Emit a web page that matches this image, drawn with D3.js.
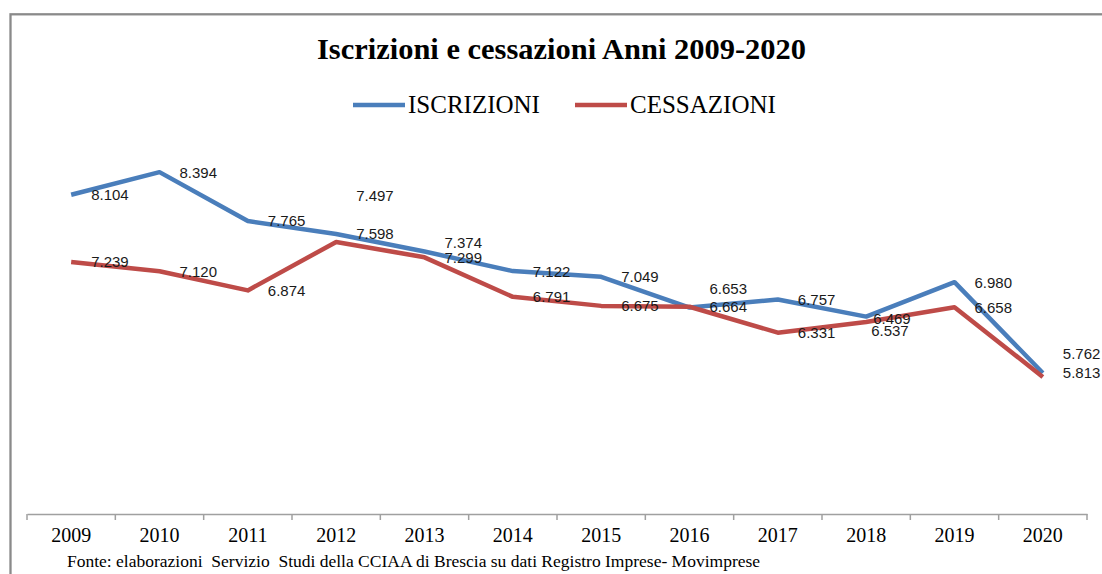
<!DOCTYPE html>
<html>
<head>
<meta charset="utf-8">
<script src="https://cdn.jsdelivr.net/npm/d3@7"></script>
<style>
  body { margin: 0; background: #fff; }
  svg { display: block; }
</style>
</head>
<body>
<div id="chart"></div>
<script>
var years = ['2009','2010','2011','2012','2013','2014','2015','2016','2017','2018','2019','2020'];
var iscrizioni = [8104, 8394, 7765, 7598, 7374, 7122, 7049, 6653, 6757, 6537, 6980, 5813];
var cessazioni = [7239, 7120, 6874, 7497, 7299, 6791, 6675, 6664, 6331, 6469, 6658, 5762];
var seriesNames = ['ISCRIZIONI', 'CESSAZIONI'];
var yDomain = [4000, 9000];

var titleText = 'Iscrizioni e cessazioni Anni 2009-2020';
var sourceText = 'Fonte: elaborazioni\u00a0 Servizio\u00a0 Studi della CCIAA di Brescia su dati Registro Imprese- Movimprese';

var colors = ['#4a7ebb', '#be4b48'];

// label nudges (dx, dy) where the original labels were moved by hand
var nudges = [
	{4: [20, -9], 7: [20, -19], 9: [5, 14]},
	{3: [20, -46], 9: [7, -3], 11: [20, -23]}
];

var width = 1102, height = 574;

var svg = d3.select('#chart').append('svg')
	.attr('width', width)
	.attr('height', height);

// chart frame (cut at right/bottom like the source)
svg.append('rect')
	.attr('x', 10.5).attr('y', 14.3)
	.attr('width', 1120).attr('height', 600)
	.attr('fill', '#fff')
	.attr('stroke', '#8a8a8a')
	.attr('stroke-width', 2.3);

var xScale = d3.scaleBand()
	.domain(years)
	.range([27, 1087])
	.padding(0);

var yScale = d3.scaleLinear()
	.domain(yDomain)
	.range([514, 125]);

// title
svg.append('text')
	.attr('x', 561.5).attr('y', 58.5)
	.attr('text-anchor', 'middle')
	.attr('textLength', 489)
	.attr('lengthAdjust', 'spacingAndGlyphs')
	.style('font-family', '"Liberation Serif", "Times New Roman", serif')
	.style('font-weight', 'bold')
	.style('font-size', '29px')
	.attr('fill', '#000')
	.text(titleText);

// legend
var legendPos = [353, 575];
var legend = svg.selectAll('.legend').data(seriesNames)
	.enter().append('g')
	.attr('class', 'legend')
	.attr('transform', function(d, i) { return 'translate(' + legendPos[i] + ',105)'; });

legend.append('line')
	.attr('x1', 0).attr('x2', 52)
	.attr('y1', 0).attr('y2', 0)
	.attr('stroke', function(d, i) { return colors[i]; })
	.attr('stroke-width', 4.5);

legend.append('text')
	.attr('x', 55).attr('y', 7.5)
	.style('font-family', '"Liberation Serif", "Times New Roman", serif')
	.style('font-size', '25px')
	.attr('fill', '#000')
	.text(function(d) { return d; });

// x axis
var xAxis = d3.axisBottom(xScale).tickSize(0).tickPadding(0);
var xGuide = svg.append('g')
	.attr('transform', 'translate(0,514)')
	.call(xAxis);
xGuide.select('.domain')
	.attr('stroke', '#a0a0a0')
	.attr('stroke-width', 1.5);
xGuide.selectAll('text')
	.attr('y', 28)
	.attr('dy', 0)
	.attr('fill', '#000')
	.style('font-family', '"Liberation Serif", "Times New Roman", serif')
	.style('font-size', '20px');

var tickPos = years.map(function(d) { return xScale(d); }).concat([xScale.range()[1]]);
svg.append('g').selectAll('line').data(tickPos)
	.enter().append('line')
	.attr('x1', function(d) { return d; })
	.attr('x2', function(d) { return d; })
	.attr('y1', 514).attr('y2', 520)
	.attr('stroke', '#a0a0a0')
	.attr('stroke-width', 1.5);

// lines
var line = d3.line()
	.x(function(d, i) { return xScale(years[i]) + xScale.bandwidth() / 2; })
	.y(function(d) { return yScale(d); });

var allSeries = [iscrizioni, cessazioni];

svg.selectAll('.serie').data(allSeries)
	.enter().append('path')
	.attr('class', 'serie')
	.attr('d', line)
	.attr('fill', 'none')
	.attr('stroke', function(d, i) { return colors[i]; })
	.attr('stroke-width', 4.5)
	.attr('stroke-linejoin', 'round');

// data labels
var fmt = function(v) { return d3.format(',')(v).replace(',', '.'); };

allSeries.forEach(function(serie, s) {
	svg.append('g').selectAll('text').data(serie)
		.enter().append('text')
		.attr('x', function(d, i) {
			var n = nudges[s][i] ? nudges[s][i][0] : 20;
			return xScale(years[i]) + xScale.bandwidth() / 2 + n;
		})
		.attr('y', function(d, i) {
			var n = nudges[s][i] ? nudges[s][i][1] : 0;
			return yScale(d) + n;
		})
		.attr('dy', '0.36em')
		.style('font-family', '"Liberation Sans", Arial, sans-serif')
		.style('font-size', '15px')
		.attr('fill', '#1a1a1a')
		.text(fmt);
});

// source
svg.append('text')
	.attr('x', 67).attr('y', 566.5)
	.style('font-family', '"Liberation Serif", "Times New Roman", serif')
	.style('font-size', '17.5px')
	.attr('fill', '#000')
	.text(sourceText);
</script>
</body>
</html>
